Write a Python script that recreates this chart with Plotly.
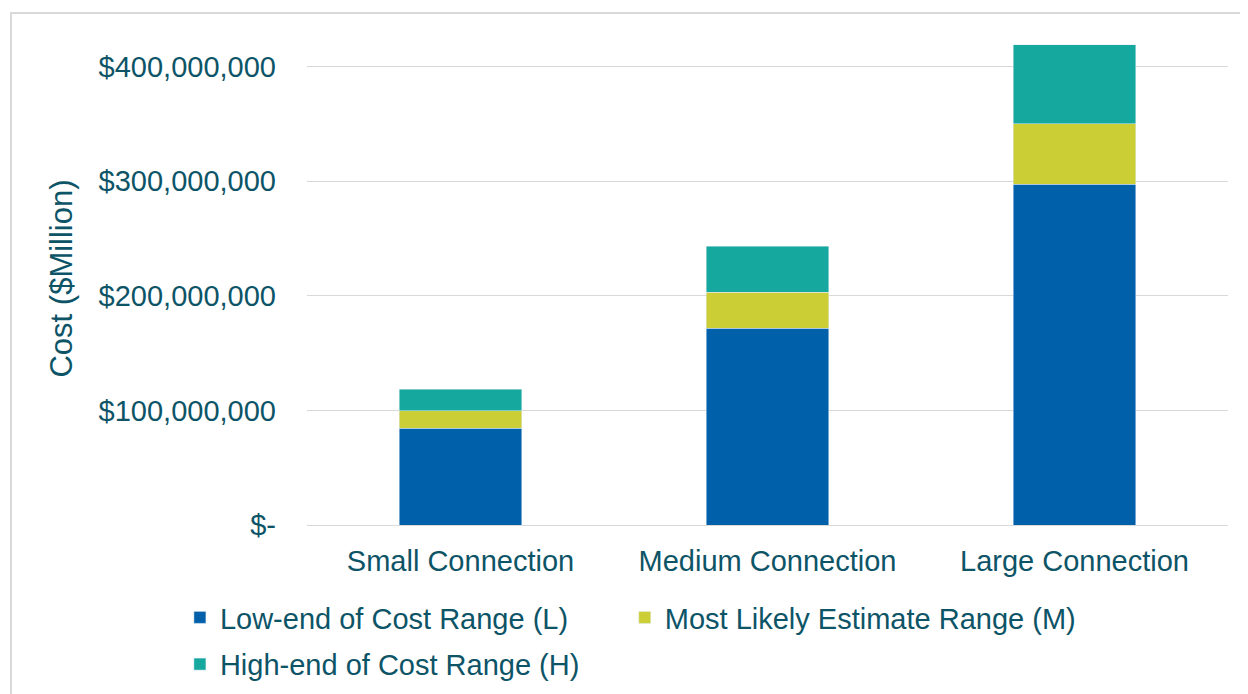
import plotly.graph_objects as go

categories = ['Small Connection', 'Medium Connection', 'Large Connection']
low_end = [84.5e6, 171.5e6, 297e6]
most_likely = [15e6, 31.5e6, 53e6]
high_end = [19e6, 40e6, 69e6]

tick_vals = [0, 100e6, 200e6, 300e6, 400e6]
tick_text = ['$-', '$100,000,000', '$200,000,000', '$300,000,000', '$400,000,000']

TEXTE = '#0D5467'
GRILLE = '#D9D9D9'

fig = go.Figure()
fig.add_trace(go.Bar(x=categories, y=low_end, name='Low-end of Cost Range (L)', marker_color='#0061AA',
                     legend='legend', legendgroup='L'))
fig.add_trace(go.Bar(x=categories, y=most_likely, name='Most Likely Estimate Range (M)', marker_color='#CBCE34',
                     legend='legend2', legendgroup='M'))
fig.add_trace(go.Bar(x=categories, y=high_end, name='High-end of Cost Range (H)', marker_color='#14A89E',
                     legend='legend', legendgroup='H'))

legende = dict(
    xanchor='left',
    y=-0.136,
    yanchor='top',
    traceorder='grouped',
    itemwidth=30,
    tracegroupgap=6,
    font=dict(size=29, color=TEXTE),
    bgcolor='rgba(0, 0, 0, 0)',
)

fig.update_layout(
    width=1248,
    height=694,
    barmode='stack',
    bargap=0.6,
    plot_bgcolor='white',
    paper_bgcolor='white',
    font=dict(family='Liberation Sans, Arial, sans-serif', size=29, color=TEXTE),
    margin=dict(l=299, r=28, t=24, b=177),
    xaxis=dict(showgrid=False, showline=False, ticks='', ticklabelstandoff=16,
               tickfont=dict(size=29, color=TEXTE)),
    yaxis=dict(
        range=[0, 4.3e8],
        tickvals=tick_vals,
        ticktext=tick_text,
        gridcolor=GRILLE,
        gridwidth=1,
        zeroline=True,
        zerolinecolor=GRILLE,
        zerolinewidth=1,
        ticks='',
        ticklabelstandoff=30,
        tickfont=dict(size=29, color=TEXTE),
        title=dict(text='Cost ($Million)', font=dict(size=31, color=TEXTE), standoff=16),
    ),
    legend=dict(legende, x=-0.138),
    legend2=dict(legende, x=0.345),
    shapes=[dict(type='rect', xref='paper', yref='paper',
                 x0=-0.3214, x1=1.1, y0=-0.5, y1=1.0385,
                 line=dict(color=GRILLE, width=2), fillcolor='rgba(0,0,0,0)', layer='below')],
)

fig.write_html('out.html')
